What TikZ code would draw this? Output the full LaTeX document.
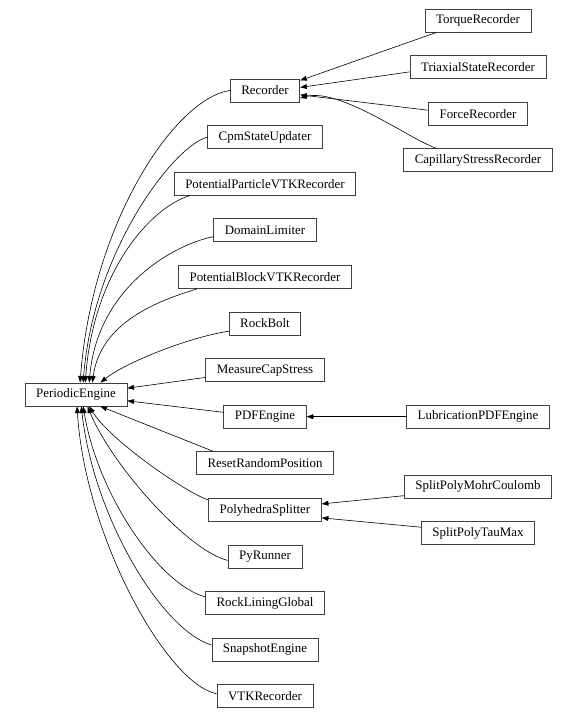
\documentclass[tikz,border=0pt]{standalone}
\usepackage{fontspec}
\setmainfont{Liberation Serif}
\usetikzlibrary{arrows.meta}

\tikzset{
  cls/.style={draw=black!75, line width=0.6pt, minimum height=17.25pt,
    inner xsep=8.3pt, inner ysep=0pt, font=\fontsize{9.7}{12}\selectfont},
  inh/.style={-{Triangle[length=5pt,width=3.6pt]}, line width=0.45pt}
}

\begin{document}
\begin{tikzpicture}[x=0.75pt,y=-0.75pt]
\useasboundingbox (0,0) rectangle (578,719);
\node[cls] (PE) at (76,394.5) {PeriodicEngine};
\node[cls] (Rec) at (265,90.5) {Recorder};
\node[cls] (Cpm) at (265,137.1) {CpmStateUpdater};
\node[cls] (PPV) at (265,183.7) {PotentialParticleVTKRecorder};
\node[cls] (DL) at (265,230.3) {DomainLimiter};
\node[cls] (PBV) at (265,276.9) {PotentialBlockVTKRecorder};
\node[cls] (RB) at (265,323.5) {RockBolt};
\node[cls] (MCS) at (265,370.1) {MeasureCapStress};
\node[cls] (PDF) at (265,416.7) {PDFEngine};
\node[cls] (RRP) at (265,463.3) {ResetRandomPosition};
\node[cls] (PS) at (265,509.9) {PolyhedraSplitter};
\node[cls] (PyR) at (265,556.5) {PyRunner};
\node[cls] (RLG) at (265,603.1) {RockLiningGlobal};
\node[cls] (SE) at (265,649.7) {SnapshotEngine};
\node[cls] (VTK) at (265,696.3) {VTKRecorder};
\node[cls] (TR) at (478,20.5) {TorqueRecorder};
\node[cls] (TSR) at (478,67.1) {TriaxialStateRecorder};
\node[cls] (FR) at (478,113.7) {ForceRecorder};
\node[cls] (CSR) at (478,160.3) {CapillaryStressRecorder};
\node[cls] (LPE) at (478,416.7) {LubricationPDFEngine};
\node[cls] (SPMC) at (478,486.6) {SplitPolyMohrCoulomb};
\node[cls] (SPTM) at (478,533.2) {SplitPolyTauMax};
% into PeriodicEngine, from above
\draw[inh] (Rec.west) .. controls +(-55,8) and +(12,-160) .. (PE.71);
\draw[inh] (Cpm.west) .. controls +(-35,10) and +(10,-130) .. (PE.59);
\draw[inh] (PPV.189) .. controls +(-40,12) and +(8,-110) .. (PE.52);
\draw[inh] (DL.187) .. controls +(-40,8) and +(8,-95) .. (PE.42);
\draw[inh] (PBV.190) .. controls +(-40,12) and +(8,-60) .. (PE.36);
\draw[inh] (RB.192) .. controls +(-40,6) and +(25,-20) .. (PE.26);
\draw[inh] (MCS.187) -- (PE.7);
% into PeriodicEngine, from below
\draw[inh] (PDF.174) -- (PE.353);
\draw[inh] (RRP.167) -- (PE.334);
\draw[inh] (PS.170) .. controls +(-22,-7) and +(21,34) .. (PE.318);
\draw[inh] (PyR.186) .. controls +(-40,-10) and +(25,60) .. (PE.314);
\draw[inh] (RLG.174) .. controls +(-45,-12) and +(15,90) .. (PE.301);
\draw[inh] (SE.175) .. controls +(-50,-15) and +(12,110) .. (PE.294);
\draw[inh] (VTK.177) .. controls +(-50,-10) and +(8,130) .. (PE.275);
% into Recorder
\draw[inh] (TR.196) -- (Rec.16);
\draw[inh] (TSR.184) -- (Rec.5);
\draw[inh] (FR.176) -- (Rec.353);
\draw[inh] (CSR.164) .. controls +(-28,-10) and +(40,-10) .. (Rec.348);
% other parents
\draw[inh] (LPE.west) -- (PDF.east);
\draw[inh] (SPMC.187) -- (PS.6);
\draw[inh] (SPTM.174) -- (PS.352);
\end{tikzpicture}
\end{document}
